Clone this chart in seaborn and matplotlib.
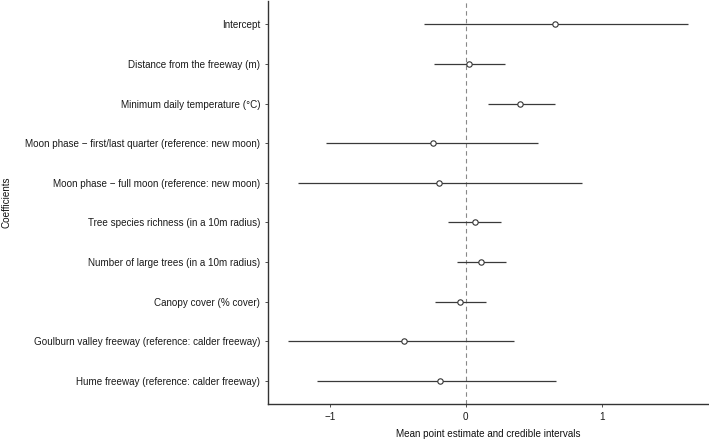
import numpy as np
import pandas as pd
import matplotlib
matplotlib.use("Agg")
import matplotlib.pyplot as plt
import seaborn as sns

# Coefficient estimates
coefficients = [
    "Intercept",
    "Distance from the freeway (m)",
    "Minimum daily temperature (°C)",
    "Moon phase \u2212 first/last quarter (reference: new moon)",
    "Moon phase \u2212 full moon (reference: new moon)",
    "Tree species richness (in a 10m radius)",
    "Number of large trees (in a 10m radius)",
    "Canopy cover (% cover)",
    "Goulburn valley freeway (reference: calder freeway)",
    "Hume freeway (reference: calder freeway)",
]
mean_est = [0.659, 0.026, 0.401, -0.243, -0.199, 0.066, 0.112, -0.042, -0.454, -0.189]
lower_ci = [-0.309, -0.235, 0.164, -1.027, -1.231, -0.128, -0.064, -0.226, -1.309, -1.091]
upper_ci = [1.635, 0.291, 0.657, 0.535, 0.855, 0.257, 0.296, 0.147, 0.357, 0.662]

df = pd.DataFrame({
    "coefficient": coefficients,
    "mean": mean_est,
    "lower": lower_ci,
    "upper": upper_ci,
})
df["pos"] = np.arange(len(df))

sns.set_style("white")
plt.rcParams["font.family"] = ["Liberation Sans", "DejaVu Sans"]

fig = plt.figure(figsize=(7.09, 4.40), dpi=100)
ax = fig.add_axes([0.3776, 0.0807, 0.6210, 0.9180])

ax.axvline(0, color="#888888", linestyle=(0, (4, 3)), linewidth=0.8, zorder=1)
ax.hlines(df["pos"], df["lower"], df["upper"], color="#3a3a3a", linewidth=0.9, zorder=2)
sns.scatterplot(data=df, x="mean", y="pos", ax=ax, s=15, marker="o",
                facecolor="white", edgecolor="#333333", linewidth=0.8, zorder=3)

span = max(upper_ci) - min(lower_ci)
ax.set_xlim(min(lower_ci) - 0.05 * span, max(upper_ci) + 0.05 * span)
ax.set_ylim(len(df) - 0.4, -0.6)
ax.set_yticks(df["pos"])
ax.set_yticklabels(df["coefficient"])
ax.set_xticks([-1, 0, 1])
ax.set_xticklabels(["\u22121", "0", "1"])

ax.tick_params(axis="both", labelsize=7.1, colors="#333333", length=2.5,
               width=0.6, pad=3, left=True, bottom=True)
for lab in ax.get_xticklabels() + ax.get_yticklabels():
    lab.set_color("#1a1a1a")

ax.set_xlabel("Mean point estimate and credible intervals", fontsize=7.1,
              color="#111111", labelpad=5)
ax.set_ylabel("Coefficients", fontsize=7.1, color="#111111")
ax.yaxis.set_label_coords(-0.582, 0.5)

for side in ["top", "right"]:
    ax.spines[side].set_visible(False)
for side in ["left", "bottom"]:
    ax.spines[side].set_color("#333333")
    ax.spines[side].set_linewidth(1.0)

fig.savefig("out.png", dpi=100)
